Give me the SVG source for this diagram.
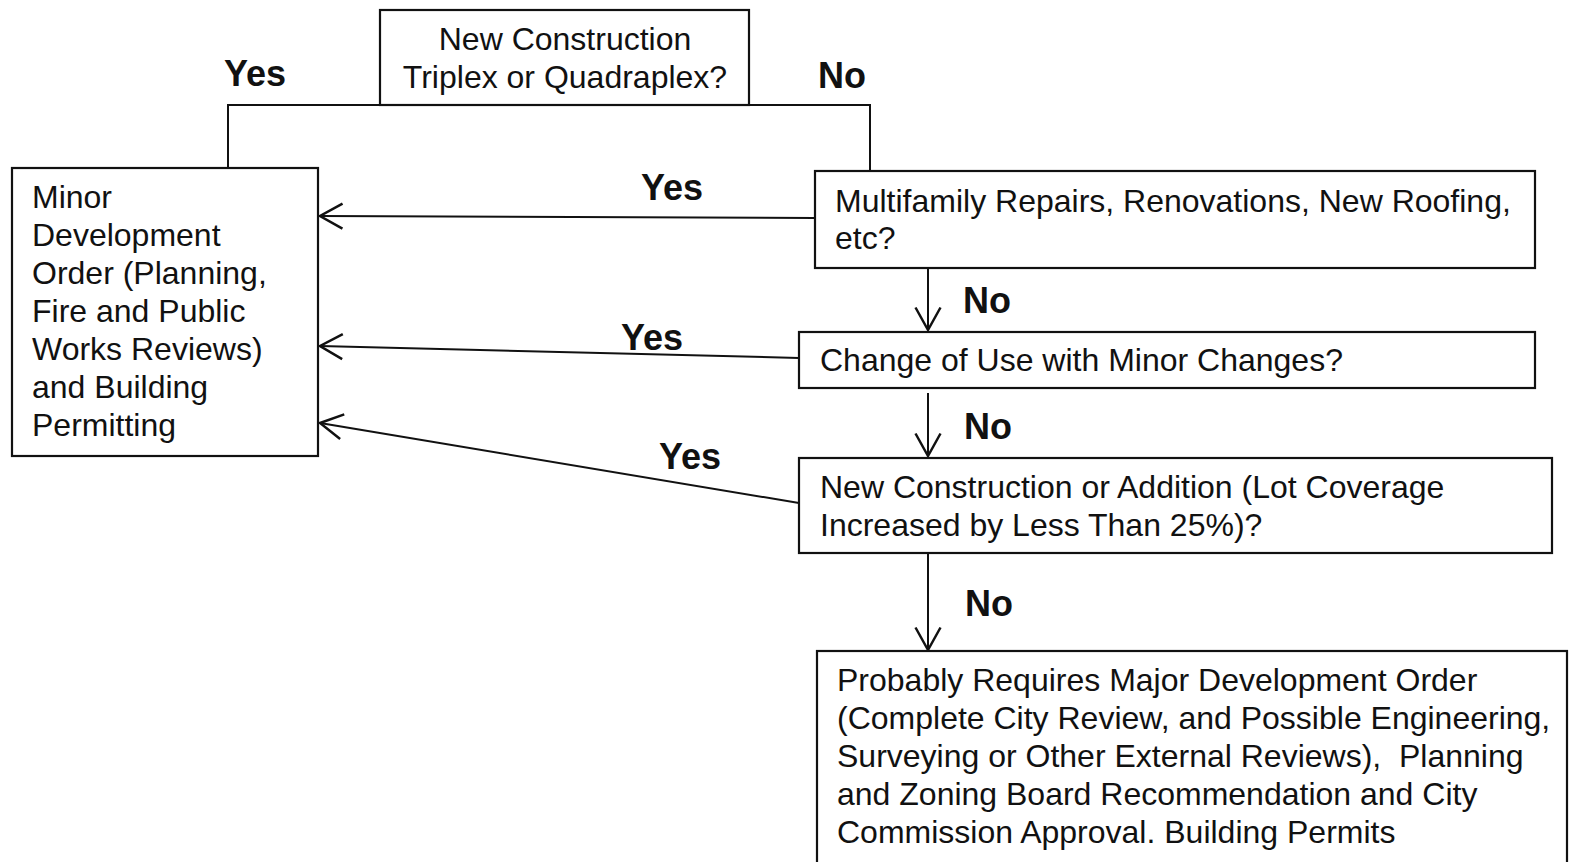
<svg xmlns="http://www.w3.org/2000/svg" width="1574" height="862" viewBox="0 0 1574 862">
<style>
.box{fill:#fff;stroke:#111;stroke-width:2.2}
.t{font-family:"Liberation Sans",Arial,sans-serif;font-size:32px;fill:#111}
.lbl{font-family:"Liberation Sans",Arial,sans-serif;font-size:36px;font-weight:bold;fill:#111}
.c{fill:none;stroke:#111;stroke-width:2}
</style>
<defs>
<marker id="ah" markerUnits="userSpaceOnUse" markerWidth="30" markerHeight="30" viewBox="-20 -12 24 24" refX="0" refY="0" orient="auto">
<path d="M-18,-10 L0,0 L-18,10" fill="none" stroke="#111" stroke-width="2"/>
</marker>
</defs>
<rect width="1574" height="862" fill="#fff"/>
<g id="connectors">
<path class="c" d="M228,168 V105 H870 V171"/>
<line class="c" x1="815" y1="218" x2="320" y2="216" marker-end="url(#ah)"/>
<line class="c" x1="799" y1="358" x2="320" y2="346" marker-end="url(#ah)"/>
<line class="c" x1="799" y1="503" x2="320" y2="423" marker-end="url(#ah)"/>
<line class="c" x1="928" y1="268" x2="928" y2="330" marker-end="url(#ah)"/>
<line class="c" x1="928" y1="393" x2="928" y2="456" marker-end="url(#ah)"/>
<line class="c" x1="928" y1="553" x2="928" y2="650" marker-end="url(#ah)"/>
<text class="lbl" x="224" y="86">Yes</text>
<text class="lbl" x="818" y="88">No</text>
<text class="lbl" x="641" y="200">Yes</text>
<text class="lbl" x="963" y="313">No</text>
<text class="lbl" x="621" y="350">Yes</text>
<text class="lbl" x="964" y="439">No</text>
<text class="lbl" x="659" y="469">Yes</text>
<text class="lbl" x="965" y="616">No</text>
</g>
<g id="n-top">
<rect class="box" x="380" y="10" width="369" height="95"/>
<text class="t" x="565" y="50" text-anchor="middle">New Construction</text>
<text class="t" x="565" y="88" text-anchor="middle">Triplex or Quadraplex?</text>
</g>
<g id="n-minor">
<rect class="box" x="12" y="168" width="306" height="288"/>
<text class="t" x="32" y="208">Minor</text>
<text class="t" x="32" y="246">Development</text>
<text class="t" x="32" y="284">Order (Planning,</text>
<text class="t" x="32" y="322">Fire and Public</text>
<text class="t" x="32" y="360">Works Reviews)</text>
<text class="t" x="32" y="398">and Building</text>
<text class="t" x="32" y="436">Permitting</text>
</g>
<g id="n-multi">
<rect class="box" x="815" y="171" width="720" height="97"/>
<text class="t" x="835" y="212">Multifamily Repairs, Renovations, New Roofing,</text>
<text class="t" x="835" y="249">etc?</text>
</g>
<g id="n-change">
<rect class="box" x="799" y="332" width="736" height="56"/>
<text class="t" x="820" y="371">Change of Use with Minor Changes?</text>
</g>
<g id="n-newcon">
<rect class="box" x="799" y="458" width="753" height="95"/>
<text class="t" x="820" y="498">New Construction or Addition (Lot Coverage</text>
<text class="t" x="820" y="536">Increased by Less Than 25%)?</text>
</g>
<g id="n-major">
<rect class="box" x="817" y="651" width="750" height="230"/>
<text class="t" x="837" y="691">Probably Requires Major Development Order</text>
<text class="t" x="837" y="729">(Complete City Review, and Possible Engineering,</text>
<text class="t" x="837" y="767" xml:space="preserve">Surveying or Other External Reviews),  Planning</text>
<text class="t" x="837" y="805">and Zoning Board Recommendation and City</text>
<text class="t" x="837" y="843">Commission Approval. Building Permits</text>
</g>
</svg>
